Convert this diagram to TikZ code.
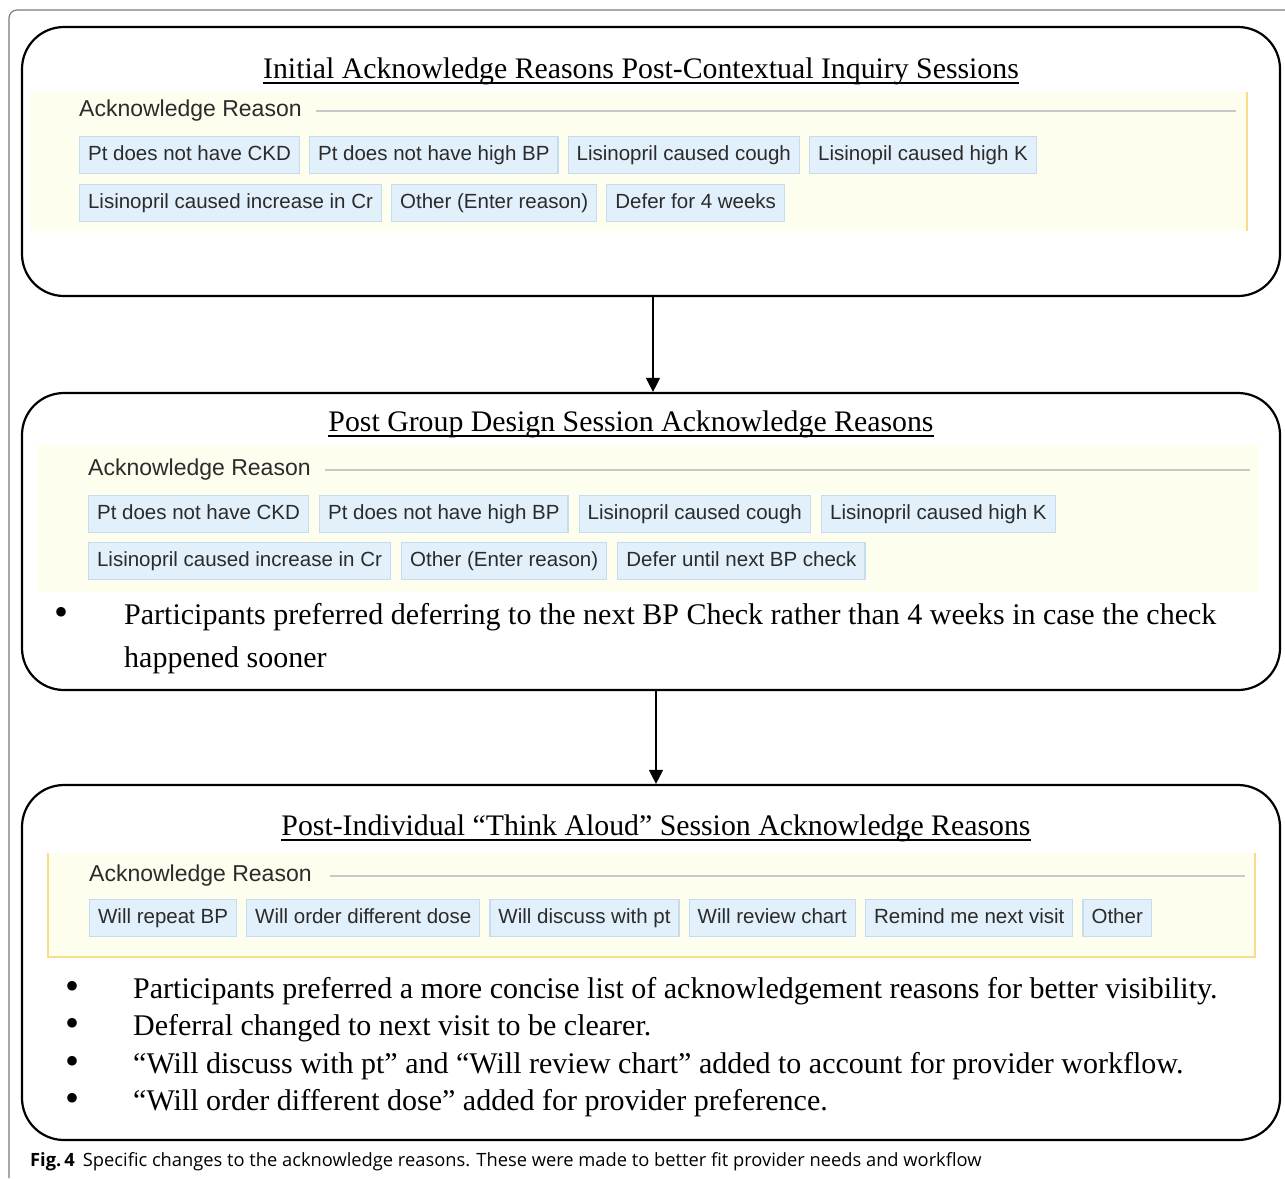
\documentclass[tikz,border=0pt]{standalone}
\usepackage{fontspec}
\setmainfont{Liberation Serif}
\newfontfamily\arialfont{Liberation Sans}
\newfontfamily\capfont{Open Sans}
\usetikzlibrary{positioning,arrows.meta}

\definecolor{btnfill}{HTML}{E1F0FB}
\definecolor{btnline}{HTML}{C5DCEE}
\definecolor{panelfill}{HTML}{FEFEEE}
\definecolor{panelline}{HTML}{F8DC8A}
\definecolor{btntext}{HTML}{2B2B2B}
\definecolor{rulegray}{HTML}{C8C8C8}
\definecolor{framegray}{HTML}{7A7A7A}

\tikzset{
  stagebox/.style={draw, line width=2.2pt, rounded corners=42pt},
  stagetitle/.style={anchor=base, inner sep=0pt, font=\fontsize{29.8}{36}\selectfont},
  reason/.style={draw=btnline, fill=btnfill, line width=1.2pt, text=btntext,
    font=\arialfont\fontsize{20.5}{24}\selectfont, inner xsep=8.5pt, inner ysep=0pt,
    text height=15pt, text depth=5pt, minimum height=37pt, anchor=west},
  hdr/.style={anchor=west, inner sep=0pt, text=btntext, font=\arialfont\fontsize{23}{26}\selectfont},
  note/.style={anchor=base west, inner sep=0pt, align=left, font=\fontsize{30}{43}\selectfont},
  dot/.style={anchor=base, inner sep=0pt, font=\fontsize{40}{40}\selectfont},
  flow/.style={-{Triangle[length=14pt,width=14pt]}, line width=1.3pt}
}

\begin{document}
\begin{tikzpicture}[x=1pt,y=-1pt]
\useasboundingbox (0,0) rectangle (1285,1178);
% figure frame
\draw[framegray, line width=1.2pt, rounded corners=8pt] (9,1178) -- (9,10) -- (1285,10);

% the three stages
\node[stagebox, minimum width=1258pt, minimum height=269pt] (stage1) at (651,161.5) {};
\node[stagebox, minimum width=1258pt, minimum height=297pt] (stage2) at (651,541.5) {};
\node[stagebox, minimum width=1258pt, minimum height=355pt] (stage3) at (651,962.5) {};

\draw[flow] ([xshift=2pt]stage1.south) -- ([xshift=2pt]stage2.north);
\draw[flow] ([xshift=5pt]stage2.south) -- ([xshift=5pt]stage3.north);

% stage 1
\node[stagetitle] (t1) at (641,78) {Initial Acknowledge Reasons Post-Contextual Inquiry Sessions};
\draw[line width=1.5pt] ([yshift=-5pt]t1.base west) -- ([yshift=-5pt]t1.base east);
\fill[panelfill] (30,92) rectangle (1247,231);
\draw[panelline, line width=1.2pt] (1247,92) -- (1247,231);
\node[hdr] (h1) at (79,111) {Acknowledge Reason};
\draw[rulegray, line width=2pt] ([xshift=14pt]h1.east) -- ++(920,0);
\node[reason] (a1) at (79,155) {Pt does not have CKD};
\node[reason, right=9pt of a1] (a2) {Pt does not have high BP};
\node[reason, right=9pt of a2] (a3) {Lisinopril caused cough};
\node[reason, right=9pt of a3] (a4) {Lisinopil caused high K};
\node[reason] (a5) at (79,203) {Lisinopril caused increase in Cr};
\node[reason, right=9pt of a5] (a6) {Other (Enter reason)};
\node[reason, right=9pt of a6] (a7) {Defer for 4 weeks};

% stage 2
\node[stagetitle] (t2) at (631,431) {Post Group Design Session Acknowledge Reasons};
\draw[line width=1.5pt] ([yshift=-5pt]t2.base west) -- ([yshift=-5pt]t2.base east);
\fill[panelfill] (38,445) rectangle (1258,592);
\node[hdr] (h2) at (88,470) {Acknowledge Reason};
\draw[rulegray, line width=2pt] ([xshift=14pt]h2.east) -- ++(925,0);
\node[reason] (b1) at (88,514) {Pt does not have CKD};
\node[reason, right=10pt of b1] (b2) {Pt does not have high BP};
\node[reason, right=10pt of b2] (b3) {Lisinopril caused cough};
\node[reason, right=10pt of b3] (b4) {Lisinopril caused high K};
\node[reason] (b5) at (88,561) {Lisinopril caused increase in Cr};
\node[reason, right=10pt of b5] (b6) {Other (Enter reason)};
\node[reason, right=10pt of b6] (b7) {Defer until next BP check};
\node[dot] (d0) at (62,625) {•};
% base of a two-line node is the baseline of its last line
\node[note] (n0) at (124,667) {Participants preferred deferring to the next BP Check rather than 4 weeks in case the check\\happened sooner};

% stage 3
\node[stagetitle] (t3) at (656,835) {Post-Individual “Think Aloud” Session Acknowledge Reasons};
\draw[line width=1.5pt] ([yshift=-5pt]t3.base west) -- ([yshift=-5pt]t3.base east);
\fill[panelfill] (48,853) rectangle (1255,957);
\draw[panelline, line width=1.2pt] (48,853) -- (48,957) -- (1255,957) -- (1255,853);
\node[hdr] (h3) at (89,876) {Acknowledge Reason};
\draw[rulegray, line width=2pt] ([xshift=18pt]h3.east) -- ++(915,0);
\node[reason] (c1) at (89,918) {Will repeat BP};
\node[reason, right=9pt of c1] (c2) {Will order different dose};
\node[reason, right=9pt of c2] (c3) {Will discuss with pt};
\node[reason, right=9pt of c3] (c4) {Will review chart};
\node[reason, right=9pt of c4] (c5) {Remind me next visit};
\node[reason, right=9pt of c5] (c6) {Other};
\foreach \txt [count=\i] in {Participants preferred a more concise list of acknowledgement reasons for better visibility.,
  Deferral changed to next visit to be clearer.,
  “Will discuss with pt” and “Will review chart” added to account for provider workflow.,
  “Will order different dose” added for provider preference.}
{
  \node[dot] (d\i) at (73,{961.5+37.5*\i}) {•};
  \node[note] (n\i) at (133,{960.5+37.5*\i}) {\txt};
}

% caption
\node[anchor=base west, inner sep=0pt, font=\capfont\fontsize{18.3}{20}\selectfont] (cap) at (30,1166)
  {\textbf{Fig.\,4}\hspace{8pt}Specific changes to the acknowledge reasons. These were made to better fit provider needs and workflow};
\end{tikzpicture}
\end{document}
